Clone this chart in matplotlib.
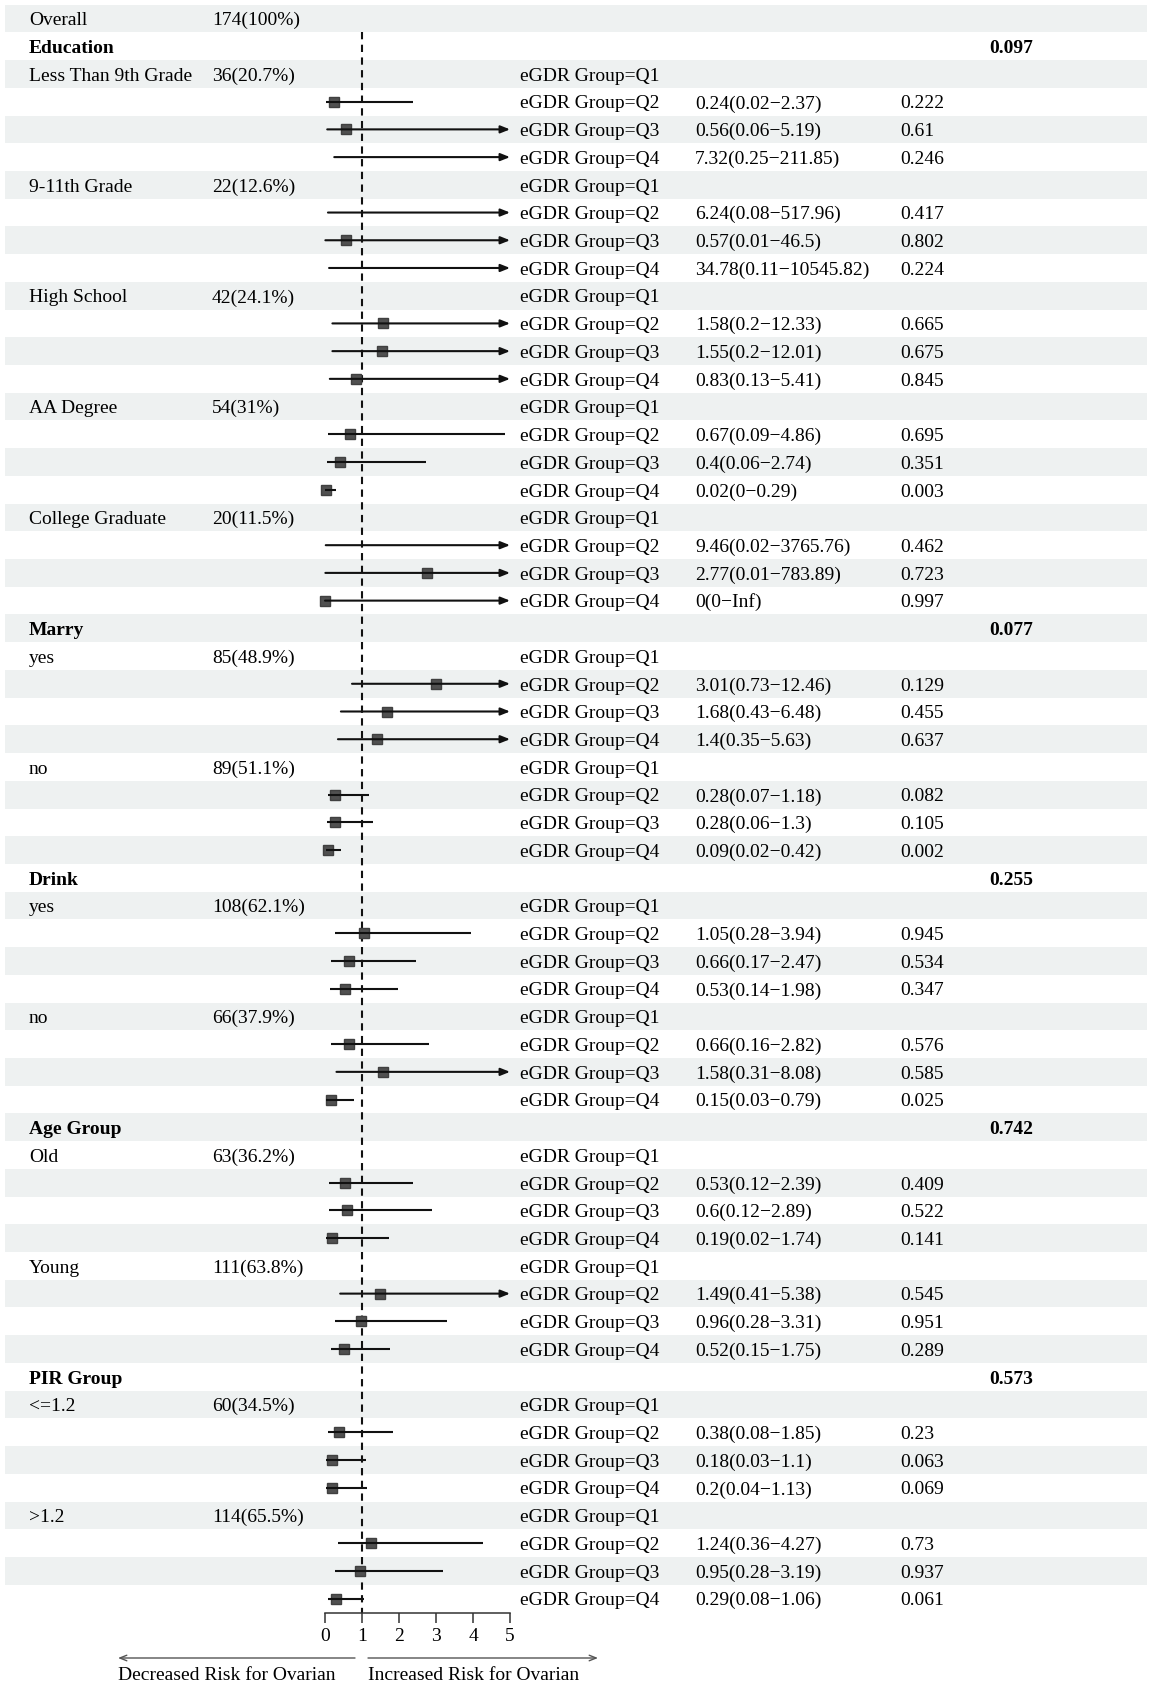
import numpy as np
import matplotlib
matplotlib.use("Agg")
import matplotlib.pyplot as plt
from matplotlib.patches import Rectangle

plt.rcParams['font.family'] = ['Liberation Serif', 'DejaVu Serif']

# ---------------- data ----------------
overall_label = "Overall"
overall_n = 174
overall_pct = 100

variables = ["Education", "Marry", "Drink", "Age Group", "PIR Group"]
p_interaction = [0.097, 0.077, 0.255, 0.742, 0.573]

subgroups = [
    ["Less Than 9th Grade", "9-11th Grade", "High School", "AA Degree", "College Graduate"],
    ["yes", "no"],
    ["yes", "no"],
    ["Old", "Young"],
    ["<=1.2", ">1.2"],
]
n_sub = [[36, 22, 42, 54, 20], [85, 89], [108, 66], [63, 111], [60, 114]]
pct_sub = [[20.7, 12.6, 24.1, 31, 11.5], [48.9, 51.1], [62.1, 37.9], [36.2, 63.8], [34.5, 65.5]]

quartiles = ["Q1", "Q2", "Q3", "Q4"]

# estimates for Q2, Q3, Q4 (Q1 = reference) per subgroup, in subgroup order
or_est = [
    [0.24, 0.56, 7.32], [6.24, 0.57, 34.78], [1.58, 1.55, 0.83], [0.67, 0.4, 0.02], [9.46, 2.77, 0],
    [3.01, 1.68, 1.4], [0.28, 0.28, 0.09],
    [1.05, 0.66, 0.53], [0.66, 1.58, 0.15],
    [0.53, 0.6, 0.19], [1.49, 0.96, 0.52],
    [0.38, 0.18, 0.2], [1.24, 0.95, 0.29],
]
ci_low = [
    [0.02, 0.06, 0.25], [0.08, 0.01, 0.11], [0.2, 0.2, 0.13], [0.09, 0.06, 0], [0.02, 0.01, 0],
    [0.73, 0.43, 0.35], [0.07, 0.06, 0.02],
    [0.28, 0.17, 0.14], [0.16, 0.31, 0.03],
    [0.12, 0.12, 0.02], [0.41, 0.28, 0.15],
    [0.08, 0.03, 0.04], [0.36, 0.28, 0.08],
]
ci_high = [
    [2.37, 5.19, 211.85], [517.96, 46.5, 10545.82], [12.33, 12.01, 5.41], [4.86, 2.74, 0.29],
    [3765.76, 783.89, np.inf],
    [12.46, 6.48, 5.63], [1.18, 1.3, 0.42],
    [3.94, 2.47, 1.98], [2.82, 8.08, 0.79],
    [2.39, 2.89, 1.74], [5.38, 3.31, 1.75],
    [1.85, 1.1, 1.13], [4.27, 3.19, 1.06],
]
p_val = [
    [0.222, 0.61, 0.246], [0.417, 0.802, 0.224], [0.665, 0.675, 0.845], [0.695, 0.351, 0.003],
    [0.462, 0.723, 0.997],
    [0.129, 0.455, 0.637], [0.082, 0.105, 0.002],
    [0.945, 0.534, 0.347], [0.576, 0.585, 0.025],
    [0.409, 0.522, 0.141], [0.545, 0.951, 0.289],
    [0.23, 0.063, 0.069], [0.73, 0.937, 0.061],
]

x_ticks = [0, 1, 2, 3, 4, 5]
x_max = 5
ref_line = 1
left_note = "Decreased Risk for Ovarian"
right_note = "Increased Risk for Ovarian"


def fmt_num(v):
    if np.isinf(v):
        return "Inf"
    s = f"{v:.2f}".rstrip('0').rstrip('.')
    return s


# ---------------- layout ----------------
W, H = 1173, 1686
Y0, DY = 18.5, 27.72
BASE = 6.8          # baseline offset below row centre
AXIS_Y = 1613
X_LAB, X_N, X_Q, X_OR, X_P, X_PI = 29, 212, 520, 695, 900, 989
FS = 14
BAND = '#EEF1F1'

fig = plt.figure(figsize=(W / 100, H / 100), dpi=100)
ax = fig.add_axes([0, 0, 1, 1])
ax.set_xlim(0, W)
ax.set_ylim(H, 0)
ax.axis('off')

fax = fig.add_axes([325 / W, (H - AXIS_Y) / H, 185 / W, AXIS_Y / H])
fax.set_xlim(0, x_max)
fax.set_ylim(AXIS_Y, 0)
fax.patch.set_alpha(0)
for s in ['top', 'left', 'right']:
    fax.spines[s].set_visible(False)
fax.spines['bottom'].set_color('#333333')
fax.spines['bottom'].set_linewidth(1.1)
fax.set_yticks([])
fax.set_xticks(x_ticks)
fax.set_xticklabels([str(t) for t in x_ticks])
fax.tick_params(axis='x', direction='out', length=7.3, width=1.1, color='#333333',
                labelsize=FS, pad=3.5)

# build rows
rows = []
rows.append(dict(lab=overall_label, n=f"{overall_n}({overall_pct:g}%)"))
k = 0
for vi, var in enumerate(variables):
    rows.append(dict(lab=var, bold=True, pint=f"{p_interaction[vi]:g}"))
    for si, sg in enumerate(subgroups[vi]):
        for qi, q in enumerate(quartiles):
            r = dict(q=f"eGDR Group={q}")
            if qi == 0:
                r['lab'] = sg
                r['n'] = f"{n_sub[vi][si]}({pct_sub[vi][si]:g}%)"
            else:
                e, lo, hi = or_est[k][qi - 1], ci_low[k][qi - 1], ci_high[k][qi - 1]
                r['est'] = (e, lo, hi)
                r['ortxt'] = f"{fmt_num(e)}({fmt_num(lo)}\u2212{fmt_num(hi)})"
                r['p'] = f"{p_val[k][qi - 1]:g}"
            rows.append(r)
        k += 1

for i, r in enumerate(rows):
    y = Y0 + DY * i
    yt = y + BASE
    if i % 2 == 0:
        ax.add_patch(Rectangle((5, y - DY / 2), 1142, DY, facecolor=BAND, edgecolor='none', zorder=0))
    fw = 'bold' if r.get('bold') else 'normal'
    if 'lab' in r:
        ax.text(X_LAB, yt, r['lab'], fontsize=FS, fontweight=fw, va='baseline', ha='left')
    if 'n' in r:
        ax.text(X_N, yt, r['n'], fontsize=FS, va='baseline', ha='left')
    if 'q' in r:
        ax.text(X_Q, yt, r['q'], fontsize=FS, va='baseline', ha='left')
    if 'ortxt' in r:
        ax.text(X_OR, yt, r['ortxt'], fontsize=FS, va='baseline', ha='left')
        ax.text(X_P, yt, r['p'], fontsize=FS, va='baseline', ha='left')
    if 'pint' in r:
        ax.text(X_PI, yt, r['pint'], fontsize=FS, fontweight='bold', va='baseline', ha='left')
    if 'est' in r:
        e, lo, hi = r['est']
        lo_c = max(lo, 0)
        if hi > x_max:
            fax.annotate('', xy=(x_max, y), xytext=(lo_c, y),
                         arrowprops=dict(arrowstyle='-|>,head_length=0.55,head_width=0.22',
                                         lw=1.5, color='#111111', shrinkA=0, shrinkB=0),
                         annotation_clip=False, zorder=3)
        else:
            fax.plot([lo_c, hi], [y, y], color='#111111', lw=1.5, solid_capstyle='butt',
                     zorder=3, clip_on=False)
        if 0 <= e <= x_max:
            fax.plot([e], [y], marker='s', ms=6.5, color='#505050', mec='#404040',
                     zorder=2, clip_on=False)

# reference dashed line
fax.plot([ref_line, ref_line], [Y0 + DY / 2, AXIS_Y], color='#111111', lw=1.5,
         ls=(0, (3.5, 2.6)), zorder=1, clip_on=False)

# bottom direction arrows
ax.annotate('', xy=(118, 1658), xytext=(355, 1658),
            arrowprops=dict(arrowstyle='->,head_length=0.5,head_width=0.2', color='#555555',
                            lw=1.0, shrinkA=0, shrinkB=0))
ax.annotate('', xy=(598, 1658), xytext=(368, 1658),
            arrowprops=dict(arrowstyle='->,head_length=0.5,head_width=0.2', color='#555555',
                            lw=1.0, shrinkA=0, shrinkB=0))
ax.text(118, 1680, left_note, fontsize=FS, va='baseline', ha='left')
ax.text(368, 1680, right_note, fontsize=FS, va='baseline', ha='left')

fig.savefig('out.png', dpi=100)
